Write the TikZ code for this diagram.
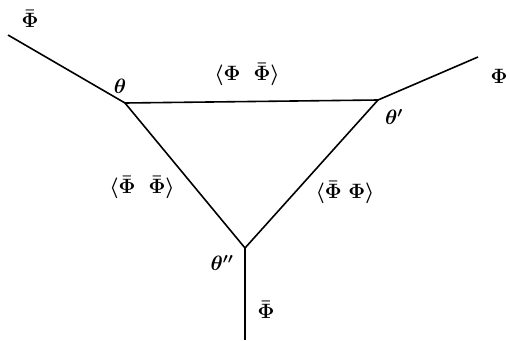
\documentclass[tikz,border=0pt]{standalone}
\usepackage{amsmath}
\begin{document}
\begin{tikzpicture}[x=1pt,y=-1pt,
  line/.style={line width=1.6pt},
  lab/.style={inner sep=1pt,font=\fontsize{22}{26}\selectfont},
  vlab/.style={inner sep=1pt,font=\huge}]
\useasboundingbox (0,0) rectangle (510,340);
\coordinate (A) at (125,103);
\coordinate (B) at (378,100);
\coordinate (C) at (245,248);
\coordinate (LA) at (8,35);
\coordinate (LB) at (478,57);
\coordinate (LC) at (245,340);
\draw[line] (LA) -- (A) -- (B) -- (LB);
\draw[line] (A) -- (C) -- (B);
\draw[line] (C) -- (LC);
\node[lab] (pa) at (30,19) {$\boldsymbol{\bar\Phi}$};
\node[lab] (pb) at (499,76) {$\boldsymbol{\Phi}$};
\node[lab] (pc) at (266,310) {$\boldsymbol{\bar\Phi}$};
\node[vlab] (ta) at (120,86) {$\boldsymbol{\theta}$};
\node[vlab] (tb) at (394,117) {$\boldsymbol{\theta'}$};
\node[vlab] (tc) at (222,263) {$\boldsymbol{\theta''}$};
\node[lab] (pab) at (247,74) {$\boldsymbol{\langle\Phi\;\;\bar\Phi\rangle}$};
\node[lab] (pac) at (142,187) {$\boldsymbol{\langle\bar\Phi\;\;\bar\Phi\rangle}$};
\node[lab] (pbc) at (345,192) {$\boldsymbol{\langle\bar\Phi\;\Phi\rangle}$};
\end{tikzpicture}
\end{document}
